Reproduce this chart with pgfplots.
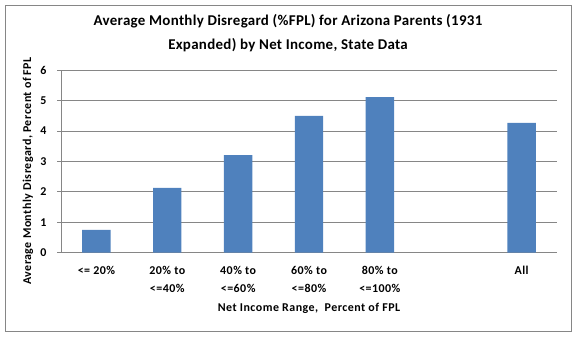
\documentclass[border=0pt]{standalone}
\usepackage{pgfplots}
\pgfplotsset{compat=1.18}
\usepackage{fontspec}
\setmainfont{Carlito}
\newfontfamily\lblfont[LetterSpace=4]{Carlito}
\newfontfamily\ttlfont[LetterSpace=2]{Carlito}
\definecolor{barblue}{RGB}{79,129,189}
\definecolor{gridgray}{RGB}{134,134,134}
\begin{document}
\begin{tikzpicture}[x=1bp,y=1bp]
\path (0,0) rectangle (577,337);
\draw[gridgray, line width=0.9bp] (5.5,6) rectangle (571.5,331.5);
\begin{axis}[
  at={(61bp,84.3bp)}, anchor=south west,
  scale only axis,
  width=496bp, height=182.4bp,
  xmin=-0.5, xmax=6.5,
  ymin=0, ymax=6,
  ytick={0,1,2,3,4,5,6},
  xtick={0,1,2,3,4,6},
  xticklabels={{<= 20\%},{20\% to\\<=40\%},{40\% to\\<=60\%},{60\% to\\<=80\%},{80\% to\\<=100\%},{All}},
  xticklabel style={align=center, font=\lblfont\fontsize{12}{18}\selectfont\bfseries, yshift=-6bp},
  yticklabel style={font=\lblfont\fontsize{12}{14}\selectfont\bfseries, xshift=-7bp},
  /pgf/number format/assume math mode=true,
  axis x line*=bottom, axis y line*=left,
  axis line style={gridgray, line width=0.9bp, -},
  ymajorgrids, major grid style={gridgray, line width=0.9bp},
  major x tick style={draw=none},
  major y tick style={gridgray, line width=0.9bp},
  tick align=outside, major tick length=4bp,
  ybar, bar width=28.4bp,
  clip=false,
]
\addplot[fill=barblue, draw=none] coordinates {(0,0.75) (1,2.13) (2,3.21) (3,4.50) (4,5.12) (6,4.27)};
\end{axis}
\node[font=\ttlfont\fontsize{15}{17}\selectfont\bfseries] at (288,316) {Average Monthly Disregard (\%FPL) for Arizona Parents (1931};
\node[font=\ttlfont\fontsize{15}{17}\selectfont\bfseries] at (288,292) {Expanded) by Net Income, State Data};
\node[font=\lblfont\fontsize{12}{14}\selectfont\bfseries] at (309,29) {Net Income Range,\ \ Percent of FPL};
\node[font=\lblfont\fontsize{12}{14}\selectfont\bfseries, rotate=90] at (28,166) {Average Monthly Disregard, Percent of FPL};
\end{tikzpicture}
\end{document}
